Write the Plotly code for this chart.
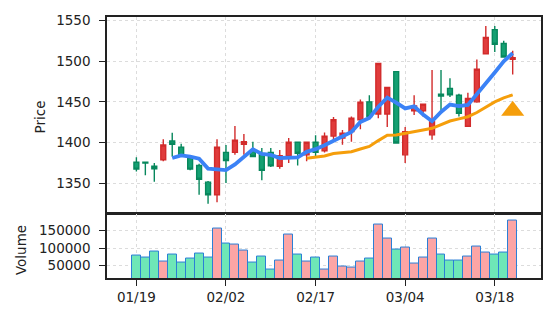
import pandas as pd
import plotly.graph_objects as go

# Trading sessions (MM/DD)
dates = ["01/19", "01/20", "01/22", "01/23", "01/25", "01/26", "01/28", "01/29", "01/30", "02/01",
         "02/02", "02/04", "02/05", "02/07", "02/08", "02/10", "02/12", "02/13", "02/14", "02/16",
         "02/17", "02/18", "02/20", "02/21", "02/23", "02/24", "02/26", "02/27", "03/01", "03/02",
         "03/04", "03/05", "03/07", "03/08", "03/09", "03/11", "03/12", "03/14", "03/15", "03/16",
         "03/18", "03/19", "03/20"]

open_ = [1376, 1376, 1371, 1379, 1402, 1394.5, 1381, 1372, 1351.5, 1336,
         1388, 1388, 1398, 1389, 1386, 1388, 1371, 1384, 1400.5, 1385,
         1400.5, 1390, 1408, 1405.5, 1413.5, 1428, 1450, 1435, 1435, 1487,
         1385, 1439, 1439, 1409.5, 1459.5, 1466.5, 1458, 1420, 1450, 1509,
         1538.5, 1521.5, 1502]
high = [1382, 1376.5, 1375, 1404, 1412, 1398.5, 1383, 1374, 1353, 1404,
        1397, 1420.5, 1410.5, 1401, 1393.5, 1393.5, 1391, 1405.5, 1401, 1401,
        1409, 1412.5, 1431.5, 1415.5, 1432, 1453, 1458, 1497.5, 1468.5, 1487.5,
        1419, 1458, 1448, 1489, 1489, 1479, 1460, 1461, 1502, 1543,
        1543, 1525, 1512.5]
low = [1364.5, 1360, 1352, 1377, 1383, 1383, 1366, 1336, 1325, 1327,
       1350.5, 1385, 1385, 1382, 1354, 1370, 1368, 1375, 1372, 1377,
       1383, 1388, 1401, 1397.5, 1401, 1416.5, 1430, 1430, 1419, 1399,
       1375, 1434, 1432, 1403.5, 1440, 1456, 1432, 1419, 1449, 1508.5,
       1511, 1504, 1483.5]
close = [1367.5, 1375, 1368, 1397, 1398, 1384, 1367.5, 1355, 1336, 1394.5,
         1378, 1403, 1401, 1383, 1366, 1371.5, 1384, 1400.5, 1387, 1400.5,
         1388, 1408, 1428, 1411.5, 1430, 1449.5, 1432, 1497, 1467.5, 1399.5,
         1413.5, 1445, 1447, 1425.5, 1457, 1458.5, 1436, 1454, 1490, 1529,
         1520.5, 1505, 1504]
volume = [80000, 71700, 91400, 60400, 83000, 57600, 68900, 85800, 74500, 156200,
          113900, 111100, 94200, 57600, 77300, 39600, 66000, 139300, 83000, 60400,
          74500, 39600, 77300, 48000, 43500, 60400, 68900, 167500, 128000, 97000,
          102700, 54800, 74500, 128000, 83000, 63200, 66000, 77300, 105500, 88600,
          83000, 88600, 178700]

# Buy signal marker
signal_idx = [42]
signal_price = [1439]

tick_idx = [0, 10, 20, 30, 40]

idx = list(range(len(dates)))
closes = pd.Series(close)
ma_fast = closes.rolling(5).mean()
ma_slow = closes.rolling(20).mean()

UP_LINE, UP_FILL = "#d22b2b", "#e03c3c"
DN_LINE, DN_FILL = "#07875c", "#14a072"
VOL_UP, VOL_DN = "#fca5a5", "#6ee7b7"

vol_colors = [VOL_UP if c >= o else VOL_DN for o, c in zip(open_, close)]

fig = go.Figure()

fig.add_trace(go.Candlestick(
    x=idx, open=open_, high=high, low=low, close=close,
    increasing=dict(line=dict(color=UP_LINE, width=1.4), fillcolor=UP_FILL),
    decreasing=dict(line=dict(color=DN_LINE, width=1.4), fillcolor=DN_FILL),
    whiskerwidth=0, showlegend=False, xaxis="x", yaxis="y",
))

fig.add_trace(go.Scatter(
    x=idx, y=ma_fast, mode="lines", line=dict(color="#3b82f6", width=3.8),
    showlegend=False, xaxis="x", yaxis="y",
))
fig.add_trace(go.Scatter(
    x=idx, y=ma_slow, mode="lines", line=dict(color="#f59e0b", width=3),
    showlegend=False, xaxis="x", yaxis="y",
))
fig.add_trace(go.Scatter(
    x=signal_idx, y=signal_price, mode="markers",
    marker=dict(symbol="triangle-up", size=20, color="#f59e0b"),
    showlegend=False, xaxis="x", yaxis="y",
))

fig.add_trace(go.Bar(
    x=idx, y=volume, width=1.0,
    marker=dict(color=vol_colors, line=dict(color="#2b7fd6", width=1)),
    showlegend=False, xaxis="x2", yaxis="y2",
))

grid = dict(showgrid=True, gridcolor="#dcdcdc", griddash="dot", gridwidth=1)
frame = dict(showline=True, linecolor="#222222", linewidth=1.6, mirror=True, zeroline=False)
xr = [-3.28, 45.16]

fig.update_layout(
    width=556, height=324,
    margin=dict(l=107, r=15, t=17, b=46),
    paper_bgcolor="white", plot_bgcolor="white",
    font=dict(family="DejaVu Sans", size=13.5, color="#222222"),
    boxgap=0.22, bargap=0,
    xaxis=dict(domain=[0, 1], anchor="y", range=xr, tickvals=tick_idx,
               showticklabels=False, ticks="", rangeslider=dict(visible=False),
               **grid, **frame),
    yaxis=dict(domain=[0.25, 1], anchor="x", range=[1314, 1554],
               tickvals=[1350, 1400, 1450, 1500, 1550], ticks="outside", ticklen=6,
               tickcolor="#222222", ticklabelstandoff=6, **grid, **frame),
    xaxis2=dict(domain=[0, 1], anchor="y2", range=xr, matches="x", tickvals=tick_idx,
                ticktext=[dates[i] for i in tick_idx], ticks="outside", ticklen=6,
                tickcolor="#222222", **grid, **frame),
    yaxis2=dict(domain=[0, 0.247], anchor="x2", range=[15000, 198000],
                tickvals=[50000, 100000, 150000], tickformat="d", ticks="outside",
                ticklen=6, tickcolor="#222222", ticklabelstandoff=6, **grid, **frame),
    annotations=[
        dict(text="Price", textangle=-90, xref="paper", yref="paper", x=0, y=0.615,
             xanchor="center", yanchor="middle", xshift=-67, showarrow=False,
             font=dict(size=13.5)),
        dict(text="Volume", textangle=-90, xref="paper", yref="paper", x=0, y=0.107,
             xanchor="center", yanchor="middle", xshift=-86, showarrow=False,
             font=dict(size=13.5)),
    ],
)

fig.write_html("out.html")
